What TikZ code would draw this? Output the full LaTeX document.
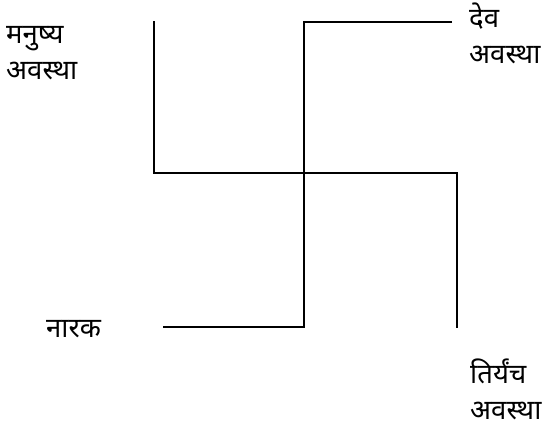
\documentclass[tikz,border=0pt]{standalone}
\usepackage{fontspec}
\newfontfamily\deva[Script=Devanagari]{Noto Sans}
\begin{document}
\begin{tikzpicture}[x=1pt,y=-1pt,
  arm/.style={line width=1.6pt,line join=miter,line cap=butt},
  lbl/.style={font=\deva\fontsize{27.5}{36}\selectfont,inner sep=0pt,align=left,anchor=base west}]
\useasboundingbox (0,0) rectangle (544,426);
\coordinate (c) at (304,173);
\coordinate (tl) at (154,21);
\coordinate (ml) at (154,173);
\coordinate (tc) at (304,22);
\coordinate (tr) at (452,22);
\coordinate (mr) at (457,173);
\coordinate (br) at (457,328);
\coordinate (bc) at (304,327);
\coordinate (bl) at (163,327);
\draw[arm] (tl) -- (ml) -- (mr) -- (br);
\draw[arm] (tr) -- (tc) -- (bc) -- (bl);
\node[lbl] (manushya) at (6,79) {मनुष्य\\अवस्था};
\node[lbl] (dev) at (469,63) {देव\\अवस्था};
\node[lbl] (narak) at (46,337) {नारक};
\node[lbl] (tiryanch) at (470,419) {तिर्यंच\\अवस्था};
\end{tikzpicture}
\end{document}
